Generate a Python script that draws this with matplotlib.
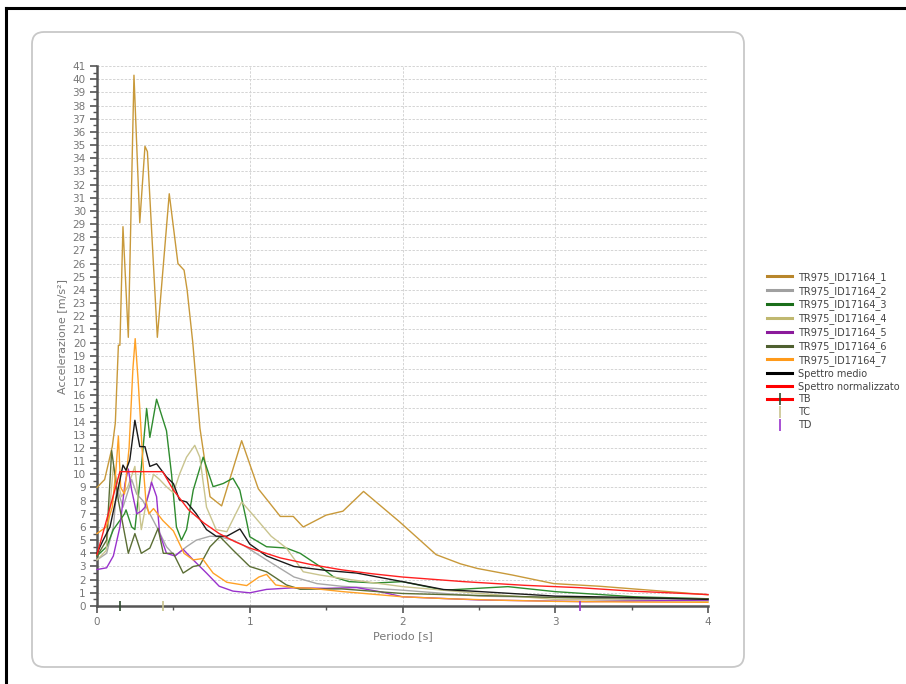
import matplotlib
matplotlib.use("Agg")
import matplotlib.pyplot as plt
from matplotlib.lines import Line2D
from matplotlib.patches import FancyBboxPatch
from matplotlib.ticker import MultipleLocator

# periods [s] and accelerations [m/s2]
t1 = [0, 0.05, 0.1, 0.12, 0.14, 0.15, 0.17, 0.205, 0.242, 0.28, 0.314, 0.33, 0.395, 0.473, 0.53,
      0.57, 0.59, 0.627, 0.674, 0.74, 0.816, 0.947, 1.056, 1.2, 1.285, 1.35, 1.5, 1.61, 1.745, 1.98,
      2.22, 2.38, 2.49, 2.72, 2.99, 3.29, 3.73, 4.0]
a1 = [9.0, 9.6, 12.1, 13.9, 19.8, 19.8, 28.8, 20.4, 40.3, 29.1, 34.9, 34.5, 20.4, 31.3, 26.0,
      25.5, 24.0, 20.0, 13.5, 8.3, 7.6, 12.55, 8.9, 6.8, 6.8, 6.0, 6.9, 7.2, 8.7, 6.4,
      3.9, 3.2, 2.85, 2.35, 1.7, 1.5, 1.1, 0.85]

t2 = [0, 0.063, 0.107, 0.13, 0.17, 0.227, 0.26, 0.3, 0.346, 0.4, 0.455, 0.51, 0.586, 0.65, 0.74,
      0.8, 0.89, 0.96, 1.11, 1.29, 1.44, 1.6, 2.0, 2.5, 3.0, 3.5, 4.0]
a2 = [3.5, 4.0, 6.0, 9.0, 7.5, 9.6, 8.5, 8.0, 7.0, 5.8, 4.5, 3.8, 4.5, 5.0, 5.3,
      5.26, 5.0, 4.6, 3.5, 2.2, 1.7, 1.5, 1.2, 0.75, 0.65, 0.5, 0.4]

t3 = [0, 0.063, 0.107, 0.15, 0.18, 0.19, 0.227, 0.248, 0.29, 0.325, 0.346, 0.39, 0.455, 0.488, 0.52,
      0.553, 0.586, 0.63, 0.695, 0.76, 0.826, 0.89, 0.935, 0.978, 1.0, 1.11, 1.24, 1.33, 1.46, 1.55,
      1.65, 1.83, 2.0, 2.27, 2.69, 3.0, 3.52, 4.0]
a3 = [3.8, 4.5, 5.8, 6.5, 7.0, 7.3, 6.0, 5.8, 10.5, 15.0, 12.8, 15.7, 13.3, 10.0, 6.0,
      5.0, 5.8, 8.8, 11.3, 9.06, 9.3, 9.7, 8.8, 6.5, 5.26, 4.5, 4.4, 4.0, 3.0, 2.2,
      1.85, 1.75, 1.85, 1.2, 1.47, 1.09, 0.7, 0.55]

t4 = [0, 0.06, 0.107, 0.16, 0.2, 0.248, 0.29, 0.325, 0.37, 0.41, 0.455, 0.5, 0.54, 0.586, 0.64,
      0.673, 0.717, 0.78, 0.85, 0.947, 1.03, 1.14, 1.24, 1.35, 1.46, 1.66, 2.0, 2.5, 3.0, 4.0]
a4 = [3.5, 4.2, 10.6, 8.3, 9.0, 10.6, 5.8, 8.0, 10.0, 9.6, 9.05, 8.6, 10.0, 11.3, 12.2,
      11.3, 7.5, 5.8, 5.64, 7.9, 6.8, 5.3, 4.4, 2.6, 2.35, 2.0, 1.47, 0.96, 0.5, 0.35]

t5 = [0, 0.063, 0.107, 0.15, 0.183, 0.205, 0.227, 0.26, 0.29, 0.314, 0.346, 0.357, 0.39, 0.41, 0.455,
      0.51, 0.564, 0.63, 0.717, 0.8, 0.89, 1.0, 1.11, 1.28, 1.5, 1.7, 1.85, 2.0, 2.5, 3.2, 4.0]
a5 = [2.77, 2.9, 3.8, 6.0, 9.3, 10.4, 8.8, 7.0, 7.2, 7.5, 8.8, 9.4, 8.3, 5.5, 4.0,
      3.8, 4.3, 3.5, 2.5, 1.5, 1.13, 1.0, 1.26, 1.38, 1.34, 1.4, 1.09, 0.7, 0.46, 0.33, 0.45]

t6 = [0, 0.063, 0.096, 0.14, 0.205, 0.248, 0.29, 0.346, 0.4, 0.434, 0.5, 0.564, 0.63, 0.674, 0.74,
      0.805, 0.89, 1.0, 1.11, 1.24, 1.33, 1.6, 2.0, 2.5, 3.0, 3.5, 4.0]
a6 = [3.8, 5.0, 11.8, 8.0, 4.0, 5.5, 4.0, 4.4, 5.9, 4.0, 4.0, 2.5, 3.0, 3.1, 4.5,
      5.26, 4.25, 3.0, 2.6, 1.6, 1.27, 1.3, 0.95, 0.8, 0.65, 0.6, 0.55]

t7 = [0, 0.06, 0.1, 0.125, 0.14, 0.155, 0.18, 0.21, 0.235, 0.25, 0.27, 0.3, 0.32, 0.34, 0.37,
      0.43, 0.5, 0.57, 0.63, 0.69, 0.76, 0.85, 0.98, 1.06, 1.11, 1.17, 1.28, 1.4, 1.6, 1.8,
      2.0, 2.3, 2.6, 3.0, 3.5, 4.0]
a7 = [5.5, 6.0, 7.5, 10.5, 12.9, 9.0, 8.5, 12.0, 18.0, 20.3, 17.0, 11.0, 8.0, 7.0, 7.4,
      6.5, 5.7, 4.0, 3.5, 3.6, 2.5, 1.8, 1.55, 2.2, 2.4, 1.6, 1.4, 1.35, 1.1, 0.9,
      0.7, 0.55, 0.45, 0.35, 0.3, 0.28]

t_med = [0, 0.04, 0.085, 0.14, 0.17, 0.19, 0.215, 0.248, 0.28, 0.314, 0.346, 0.39, 0.455, 0.5, 0.54,
         0.586, 0.65, 0.717, 0.78, 0.85, 0.936, 1.0, 1.11, 1.29, 1.5, 1.7, 2.0, 2.27, 2.5, 3.0,
         3.5, 4.0]
a_med = [4.0, 5.0, 6.0, 9.0, 10.7, 10.3, 11.1, 14.1, 12.1, 12.1, 10.6, 10.8, 9.8, 9.3, 8.05,
         7.9, 7.0, 5.8, 5.3, 5.3, 5.85, 4.7, 3.8, 3.0, 2.7, 2.5, 1.85, 1.25, 1.1, 0.75,
         0.65, 0.5]

t_norm = [0, 0.15, 0.43, 0.5, 0.6, 0.7, 0.8, 0.9, 1.0, 1.2, 1.4, 1.6, 1.8, 2.0, 2.4,
          2.8, 3.16, 3.5, 4.0]
a_norm = [3.9, 10.2, 10.2, 8.8, 7.3, 6.3, 5.5, 4.9, 4.4, 3.65, 3.15, 2.75, 2.45, 2.2, 1.85,
          1.57, 1.39, 1.13, 0.87]

TB, TC, TD = 0.15, 0.43, 3.16

labels = ["TR975_ID17164_1", "TR975_ID17164_2", "TR975_ID17164_3", "TR975_ID17164_4",
          "TR975_ID17164_5", "TR975_ID17164_6", "TR975_ID17164_7",
          "Spettro medio", "Spettro normalizzato"]
colors = ["#c8993a", "#a8a8a8", "#2e8b2e", "#c9c48e", "#9932cc", "#5b6e35", "#ffa126",
          "#1a1a1a", "#ff2020"]
legend_colors = ["#b8862b", "#a0a0a0", "#1a6e1a", "#c0b870", "#8b1a9b", "#4f6030", "#ff9a1a",
                 "#000000", "#ff0000"]
series = [(t1, a1), (t2, a2), (t3, a3), (t4, a4), (t5, a5), (t6, a6), (t7, a7),
          (t_med, a_med), (t_norm, a_norm)]

fig = plt.figure(figsize=(9.06, 6.84), dpi=100)

# outer frame (top and left only) and rounded panel
fig.add_artist(Line2D([6 / 906, 1], [1 - 8 / 684, 1 - 8 / 684], transform=fig.transFigure,
                      color="black", lw=2.2, zorder=0))
fig.add_artist(Line2D([6 / 906, 6 / 906], [0, 1 - 8 / 684], transform=fig.transFigure,
                      color="black", lw=2.2, zorder=0))
fig.add_artist(FancyBboxPatch((0.32, 0.17), 7.12, 6.35, boxstyle="round,pad=0,rounding_size=0.12",
                              transform=fig.dpi_scale_trans, facecolor="white",
                              edgecolor="#c8c8c8", lw=1.3, zorder=-1))

ax = fig.add_axes([97 / 906, 1 - 606 / 684, 611 / 906, 540 / 684])
ax.set_zorder(2)
ax.patch.set_alpha(0)
ax.set_xlim(0, 4)
ax.set_ylim(0, 41)

for (t, a), c in zip(series, colors):
    ax.plot(t, a, color=c, lw=1.0, clip_on=False, zorder=3)

# corner periods on the time axis
ax.plot([TB], [0], marker="|", color="#2f4a2f", ms=7, mew=1.2, clip_on=False, zorder=5)
ax.plot([TC], [0], marker="|", color="#c9c48e", ms=7, mew=1.2, clip_on=False, zorder=5)
ax.plot([TD], [0], marker="|", color="#9932cc", ms=7, mew=1.2, clip_on=False, zorder=5)

ax.xaxis.set_major_locator(MultipleLocator(1))
ax.xaxis.set_minor_locator(MultipleLocator(0.5))
ax.yaxis.set_major_locator(MultipleLocator(1))
ax.yaxis.set_minor_locator(MultipleLocator(0.5))
ax.grid(True, which="major", color="#d4d4d4", lw=0.7, linestyle=(0, (2.5, 1.5)))
ax.set_axisbelow(True)

for s in ["top", "right"]:
    ax.spines[s].set_visible(False)
for s in ["left", "bottom"]:
    ax.spines[s].set_color("#555555")
    ax.spines[s].set_linewidth(1.8)

ax.tick_params(which="major", length=5, width=1.2, color="#555555", labelsize=7.5,
               labelcolor="#777777", pad=3)
ax.tick_params(which="minor", length=3, width=1.0, color="#555555")
ax.set_xticks([0, 1, 2, 3, 4])
ax.set_xticklabels(["0", "1", "2", "3", "4"])

ax.set_xlabel("Periodo [s]", fontsize=8, color="#777777", labelpad=3)
ax.set_ylabel("Accelerazione [m/s²]", fontsize=8, color="#777777", labelpad=4)

handles = [Line2D([], [], color=c, lw=2.2) for c in legend_colors]
handles.append(Line2D([], [], color="#ff0000", lw=2.2, marker="|", mec="#2f4a2f", ms=8, mew=1.2))
handles.append(Line2D([], [], color="#c9c48e", lw=0, marker="|", ms=8, mew=1.2))
handles.append(Line2D([], [], color="#9932cc", lw=0, marker="|", ms=8, mew=1.2))
fig.legend(handles, labels + ["TB", "TC", "TD"], loc="upper left",
           bbox_to_anchor=(763 / 906, 1 - 268 / 684), frameon=False, fontsize=7,
           handlelength=2.6, handletextpad=0.6, labelspacing=0.3, borderaxespad=0,
           labelcolor="#444444")

fig.savefig("out.png", dpi=100)
